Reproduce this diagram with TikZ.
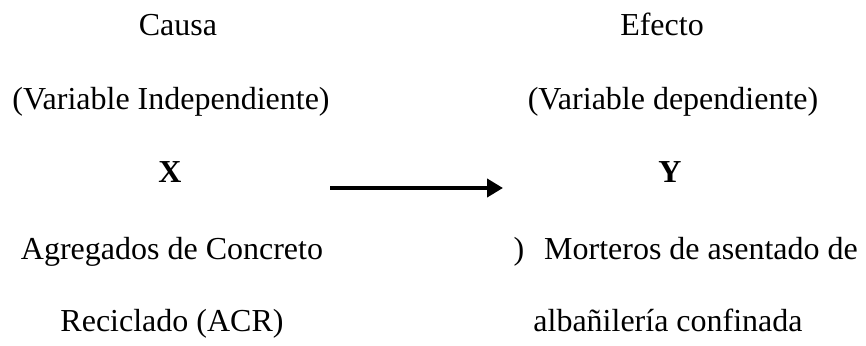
\documentclass[tikz,border=0pt]{standalone}
\usepackage{fontspec}
\setmainfont{Liberation Serif}
\usetikzlibrary{arrows.meta}
\begin{document}
\begin{tikzpicture}[x=1pt,y=-1pt,
  lbl/.style={anchor=base,inner sep=0pt,font=\fontsize{32}{32}\selectfont},
  link/.style={line width=4pt,-{Triangle[length=16pt,width=18pt]}}]
\useasboundingbox (0,0) rectangle (866,345);
% left column: cause
\node[lbl] (causa) at (178,36) {Causa};
\node[lbl] (vi) at (171,109) {(Variable Independiente)};
\node[lbl] (x) at (170,182) {\textbf{X}};
\node[lbl] (acr1) at (172,259) {Agregados de Concreto};
\node[lbl] (acr2) at (172,331) {Reciclado (ACR)};
% right column: effect
\node[lbl] (efecto) at (662,36) {Efecto};
\node[lbl] (vd) at (673,109) {(Variable dependiente)};
\node[lbl] (y) at (670,182) {\textbf{Y}};
\node[lbl] (par) at (519,259) {)};
\node[lbl] (mort1) at (701,259) {Morteros de asentado de};
\node[lbl] (mort2) at (668,331) {albañilería confinada};
% cause -> effect
\coordinate (a0) at (330,188);
\coordinate (a1) at (503,188);
\draw[link] (a0) -- (a1);
\end{tikzpicture}
\end{document}
